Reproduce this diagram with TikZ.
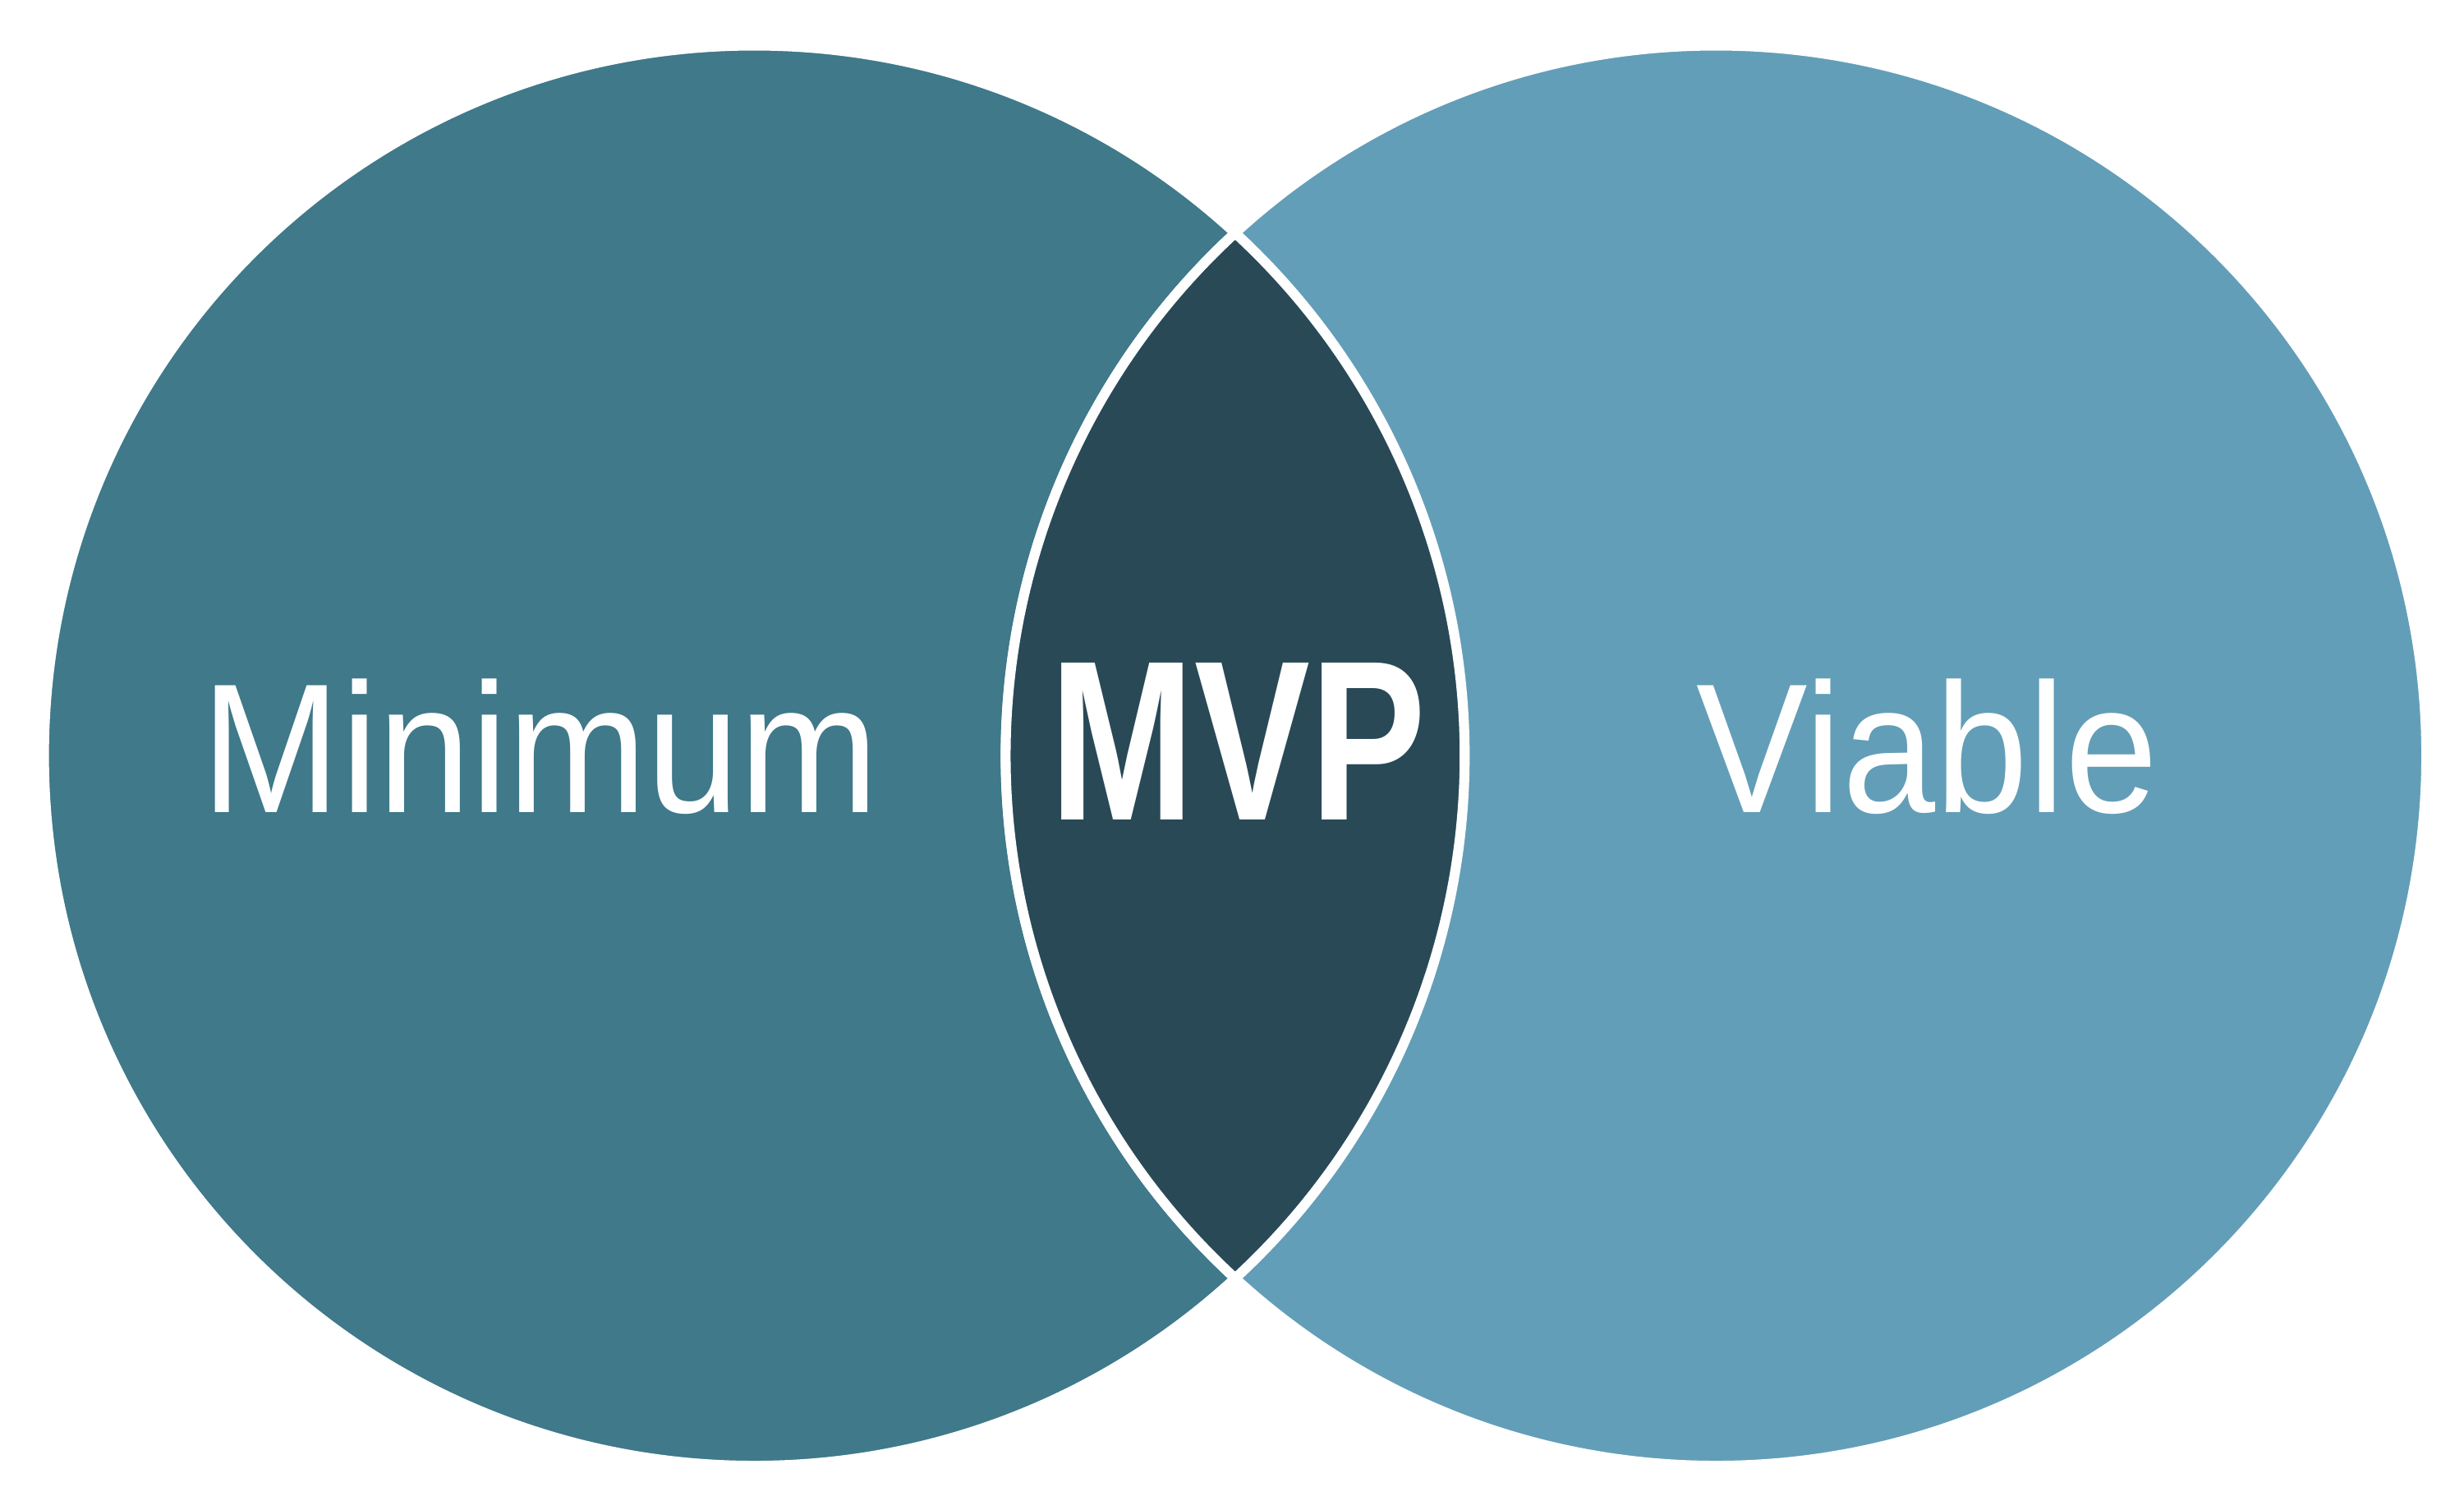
\documentclass[tikz,border=0pt]{standalone}
\usepackage{fontspec}
\usepackage{tikz}
\newfontfamily\labelfont{Liberation Sans}[FakeStretch=0.905]
\newfontfamily\mvpfont{Liberation Sans}[FakeStretch=0.76]
\definecolor{minblue}{RGB}{63,121,138}
\definecolor{viablue}{RGB}{99,158,184}
\definecolor{mvpblue}{RGB}{41,73,87}
\tikzset{
  setpart/.style={draw=white,line width=1.8pt},
  setlabel/.style={text=white,anchor=base,inner sep=0pt,font=\labelfont\fontsize{33.4}{36}\selectfont},
  mvplabel/.style={text=white,anchor=base,inner sep=0pt,font=\mvpfont\bfseries\fontsize{41.3}{44}\selectfont}
}
\begin{document}
\begin{tikzpicture}

\useasboundingbox (0,0) rectangle (15.68,9.55);

\coordinate (cL) at (4.80,4.74);
\coordinate (cR) at (10.92,4.74);
\coordinate (vtop) at (7.86,8.067);

\fill[setpart,fill=minblue] (cL) circle (4.52);
\fill[setpart,fill=viablue] (cR) circle (4.52);
\fill[setpart,fill=mvpblue] (vtop) arc (132.6:227.4:4.52) arc (-47.4:47.4:4.52) -- cycle;

\node[setlabel] (minimum) at (3.44,4.38) {Minimum};
\node[setlabel] (viable) at (12.265,4.38) {Viable};
\node[mvplabel] (mvp) at (7.88,4.33) {MVP};
\end{tikzpicture}
\end{document}
